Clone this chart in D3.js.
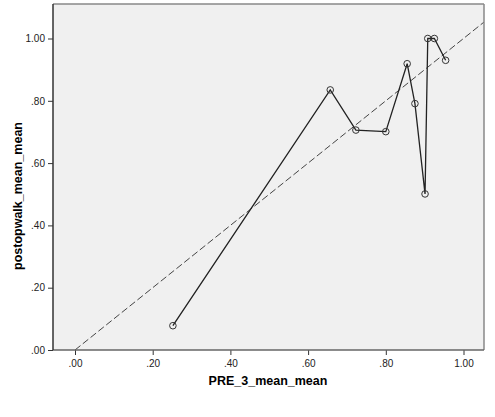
<!DOCTYPE html>
<html><head><meta charset="utf-8">
<script src="https://cdn.jsdelivr.net/npm/d3@7"></script>
<style>body{margin:0;background:#fff}svg{display:block}</style>
</head><body>
<svg id="c" width="495" height="417"></svg>
<script>
const preValues = [0.252, 0.657, 0.723, 0.800, 0.855, 0.875, 0.901, 0.908, 0.925, 0.954];
const postValues = [0.078, 0.835, 0.706, 0.701, 0.919, 0.791, 0.501, 1.000, 1.000, 0.930];
const xTicks = [0, 0.2, 0.4, 0.6, 0.8, 1.0];
const yTicks = [0, 0.2, 0.4, 0.6, 0.8, 1.0];
const refLine = [0, 1.2];

const svg = d3.select("#c");
const L = 53, R = 484, T = 4, B = 350;
const x = d3.scaleLinear().domain([0, 1]).range([75, 463.5]);
const y = d3.scaleLinear().domain([0, 1]).range([350, 38.5]);
const fmt = v => d3.format(".2f")(v).replace(/^0\./, ".");

svg.append("rect").attr("x", L).attr("y", T).attr("width", R - L).attr("height", B - T).attr("fill", "#f0f0f0");

const clip = svg.append("clipPath").attr("id", "cp").append("rect").attr("x", L).attr("y", T).attr("width", R - L).attr("height", B - T);

// reference line y = x
svg.append("line").attr("clip-path", "url(#cp)")
  .attr("x1", x(refLine[0])).attr("y1", y(refLine[0]))
  .attr("x2", x(refLine[1])).attr("y2", y(refLine[1]))
  .attr("stroke", "#444").attr("stroke-width", 1).attr("stroke-dasharray", "7,3");

const pts = preValues.map((v, i) => [v, postValues[i]]);
svg.append("path").datum(pts)
  .attr("d", d3.line().x(d => x(d[0])).y(d => y(d[1])))
  .attr("fill", "none").attr("stroke", "#222").attr("stroke-width", 1.3);

svg.selectAll("circle.pt").data(pts).enter().append("circle")
  .attr("class", "pt").attr("cx", d => x(d[0])).attr("cy", d => y(d[1])).attr("r", 3.3)
  .attr("fill", "none").attr("stroke", "#333").attr("stroke-width", 1);

// frame
svg.append("line").attr("x1", L).attr("y1", T).attr("x2", R).attr("y2", T).attr("stroke", "#888").attr("stroke-width", 1.5);
svg.append("line").attr("x1", R).attr("y1", T).attr("x2", R).attr("y2", B).attr("stroke", "#888").attr("stroke-width", 1.5);

const xAxis = svg.append("g").attr("transform", `translate(0,${B})`)
  .call(d3.axisBottom(x).tickValues(xTicks).tickFormat(fmt).tickSize(5).tickSizeOuter(0));
xAxis.select(".domain").remove();
xAxis.append("line").attr("x1", L).attr("x2", R).attr("y1", 0).attr("y2", 0).attr("stroke", "#666").attr("stroke-width", 1.5);

const yAxis = svg.append("g").attr("transform", `translate(${L},0)`)
  .call(d3.axisLeft(y).tickValues(yTicks).tickFormat(fmt).tickSize(5).tickSizeOuter(0));
yAxis.select(".domain").remove();
yAxis.append("line").attr("x1", 0).attr("x2", 0).attr("y1", T).attr("y2", B).attr("stroke", "#333").attr("stroke-width", 1.5);

svg.selectAll(".tick line").attr("stroke", "#333");
svg.selectAll(".tick text").attr("font-family", "Liberation Sans, Arial, sans-serif").attr("font-size", 10).attr("fill", "#222");
xAxis.selectAll(".tick text").attr("dy", "0.9em");

svg.append("text").attr("x", 268).attr("y", 385).attr("text-anchor", "middle")
  .attr("font-family", "Liberation Sans, Arial, sans-serif").attr("font-weight", "bold").attr("font-size", 12.5)
  .text("PRE_3_mean_mean");
svg.append("text").attr("transform", "translate(22,196) rotate(-90)").attr("text-anchor", "middle")
  .attr("font-family", "Liberation Sans, Arial, sans-serif").attr("font-weight", "bold").attr("font-size", 12.5)
  .text("postopwalk_mean_mean");
</script>
</body></html>
